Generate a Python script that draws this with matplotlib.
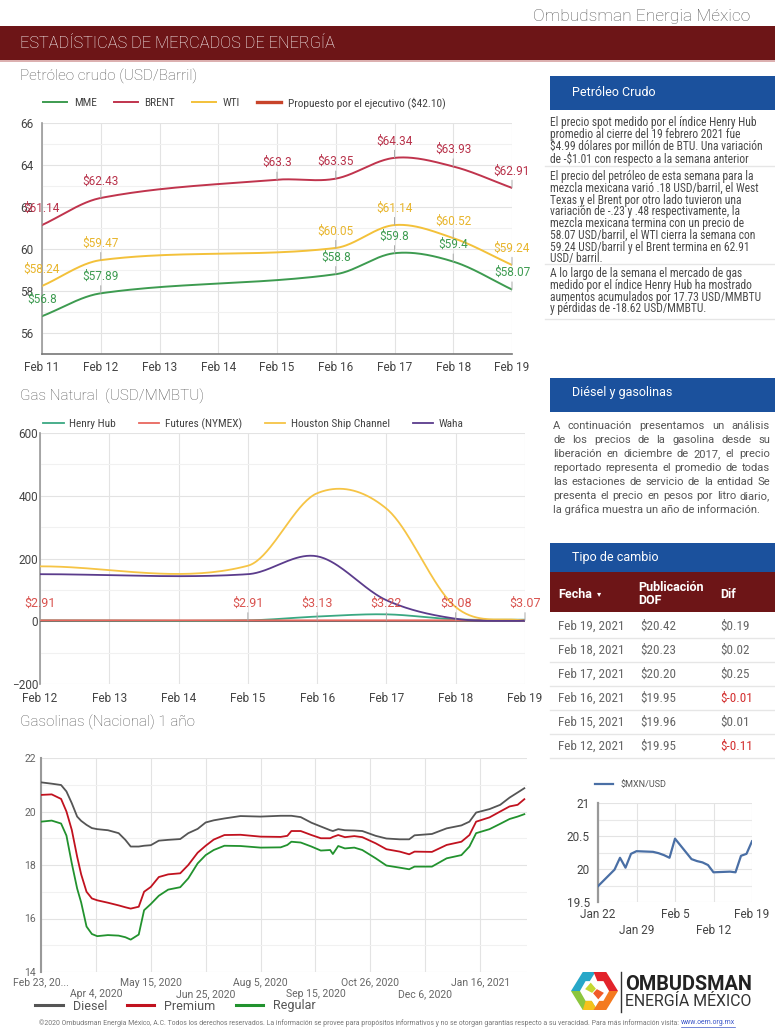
import numpy as np
import matplotlib
matplotlib.use('Agg')
import matplotlib.pyplot as plt
import matplotlib.dates as mdates
import matplotlib.font_manager as fm
from matplotlib.patches import Rectangle, Polygon
from matplotlib.lines import Line2D

W, H = 775, 1033
plt.rcParams['font.family'] = ['Roboto', 'DejaVu Sans']
names = {f.name for f in fm.fontManager.ttflist}
COND = next((n for n in ['Roboto Condensed', 'Liberation Sans Narrow'] if n in names), 'Roboto')
CONDF = [COND, 'DejaVu Sans']

# ---- Petróleo crudo ----
brent_dates = ['2021-02-11', '2021-02-12', '2021-02-15', '2021-02-16', '2021-02-17', '2021-02-18', '2021-02-19']
brent = [61.14, 62.43, 63.3, 63.35, 64.34, 63.93, 62.91]
wti_dates = ['2021-02-11', '2021-02-12', '2021-02-16', '2021-02-17', '2021-02-18', '2021-02-19']
wti = [58.24, 59.47, 60.05, 61.14, 60.52, 59.24]
mme = [56.8, 57.89, 58.8, 59.8, 59.4, 58.07]
propuesto = 42.10

# ---- Gas natural ----
gas_dates = ['2021-02-12', '2021-02-15', '2021-02-16', '2021-02-17', '2021-02-18', '2021-02-19']
henry_hub = [2.9, 3.0, 15.0, 22.0, 6.0, 4.99]
futures = [2.91, 2.91, 3.13, 3.22, 3.08, 3.07]
houston = [175, 177, 408, 359, 45, 1]
waha = [150, 150, 207, 67, 8, 1]

# ---- Gasolinas (dias desde 23 feb 2020) ----
gasol_days = [0, 8, 15, 19, 23, 27, 30, 34, 38, 42, 50, 58, 63, 67, 73, 77, 82, 88, 95, 104,
              110, 117, 123, 129, 137, 149, 164, 179, 184, 187, 194, 202, 209, 216, 218, 222,
              227, 234, 240, 250, 258, 268, 275, 279, 292, 303, 314, 320, 325, 335, 343, 350, 356, 361]
diesel = [21.09, 21.04, 20.99, 20.75, 20.31, 19.81, 19.65, 19.50, 19.38, 19.34, 19.30, 19.19, 18.94,
          18.69, 18.69, 18.72, 18.74, 18.91, 18.94, 18.97, 19.19, 19.35, 19.59, 19.67, 19.74, 19.83,
          19.81, 19.84, 19.84, 19.84, 19.79, 19.58, 19.44, 19.30, 19.27, 19.34, 19.30, 19.29, 19.27,
          19.09, 18.99, 18.96, 18.96, 19.11, 19.16, 19.37, 19.48, 19.62, 19.96, 20.09, 20.25, 20.52,
          20.71, 20.87]
premium = [20.62, 20.64, 20.47, 20.0, 19.31, 18.31, 17.65, 17.0, 16.75, 16.68, 16.59, 16.49, 16.42,
           16.37, 16.44, 17.0, 17.18, 17.55, 17.65, 17.69, 18.0, 18.46, 18.72, 18.95, 19.12, 19.13,
           19.06, 19.05, 19.09, 19.27, 19.27, 19.12, 19.0, 19.0, 19.05, 19.12, 19.04, 19.08, 19.04,
           18.81, 18.59, 18.50, 18.40, 18.50, 18.49, 18.75, 18.87, 19.12, 19.62, 19.78, 20.0, 20.19,
           20.25, 20.46]
regular = [19.62, 19.66, 19.55, 19.1, 18.06, 17.12, 16.6, 15.7, 15.42, 15.34, 15.38, 15.36, 15.30,
           15.21, 15.40, 16.31, 16.54, 16.85, 17.08, 17.17, 17.5, 18.06, 18.37, 18.56, 18.72, 18.71,
           18.65, 18.66, 18.75, 18.87, 18.84, 18.69, 18.54, 18.56, 18.41, 18.71, 18.62, 18.65, 18.56,
           18.25, 17.98, 17.90, 17.84, 17.94, 17.94, 18.25, 18.37, 18.69, 19.19, 19.34, 19.54, 19.72,
           19.81, 19.90]
gasol_ticks = [0, 41, 82, 123, 164, 205, 246, 287, 328]
gasol_labels = ['Feb 23, 20...', '\nApr 4, 2020', 'May 15, 2020', '\nJun 25, 2020', 'Aug 5, 2020',
                '\nSep 15, 2020', 'Oct 26, 2020', '\nDec 6, 2020', 'Jan 16, 2021']

# ---- Tipo de cambio ----
mxn_dates = ['2021-01-22', '2021-01-25', '2021-01-26', '2021-01-27', '2021-01-28', '2021-01-29',
             '2021-02-01', '2021-02-02', '2021-02-03', '2021-02-04', '2021-02-05', '2021-02-08',
             '2021-02-09', '2021-02-10', '2021-02-11', '2021-02-12', '2021-02-15', '2021-02-16',
             '2021-02-17', '2021-02-18', '2021-02-19']
mxn = [19.74, 19.99, 20.17, 20.02, 20.23, 20.27, 20.26, 20.24, 20.21, 20.17, 20.46, 20.15,
       20.12, 20.10, 20.06, 19.95, 19.96, 19.95, 20.20, 20.23, 20.42]
mxn_ticks = ['2021-01-22', '2021-01-29', '2021-02-05', '2021-02-12', '2021-02-19']
mxn_labels = ['Jan 22', '\nJan 29', 'Feb 5', '\nFeb 12', 'Feb 19']
tc_fechas = ['Feb 19, 2021', 'Feb 18, 2021', 'Feb 17, 2021', 'Feb 16, 2021', 'Feb 15, 2021', 'Feb 12, 2021']
tc_dof = ['$20.42', '$20.23', '$20.20', '$19.95', '$19.96', '$19.95']
tc_dif = ['$0.19', '$0.02', '$0.25', '$-0.01', '$0.01', '$-0.11']

BLUE = '#1b519d'
DARKRED = '#6d1517'

fig = plt.figure(figsize=(W / 100, H / 100), dpi=100)
R = fig.canvas.get_renderer()


def box(x0, y0, x1, y1):
    return [x0 / W, 1 - y1 / H, (x1 - x0) / W, (y1 - y0) / H]


def T(x, y, s, **kw):
    kw.setdefault('va', 'center')
    return fig.text(x / W, 1 - y / H, s, **kw)


def rect(x0, y0, x1, y1, color):
    fig.add_artist(Rectangle((x0 / W, 1 - y1 / H), (x1 - x0) / W, (y1 - y0) / H,
                             transform=fig.transFigure, facecolor=color, edgecolor='none'))


def hline(x0, x1, y, color, lw=0.8):
    fig.add_artist(Line2D([x0 / W, x1 / W], [1 - y / H] * 2, transform=fig.transFigure, color=color, lw=lw))


def width_of(t):
    return t.get_window_extent(renderer=R).width


def fit_size(s, target, family, weight='normal'):
    t = fig.text(0, 0, s, fontsize=10, family=family, fontweight=weight)
    w = width_of(t)
    t.remove()
    return 10 * target / w


def line_height(size, family):
    t = fig.text(0, 0, 'lp', fontsize=size, family=family)
    h = t.get_window_extent(renderer=R).height
    t.remove()
    return h


def smooth(x, y, n=40):
    # curva suave tipo Google Charts (Hermite con tangentes de Catmull-Rom)
    x = np.asarray(x, float)
    y = np.asarray(y, float)
    m = np.empty_like(y)
    m[1:-1] = (y[2:] - y[:-2]) / (x[2:] - x[:-2])
    m[0] = (y[1] - y[0]) / (x[1] - x[0])
    m[-1] = (y[-1] - y[-2]) / (x[-1] - x[-2])
    xs, ys = [], []
    t = np.linspace(0, 1, n, endpoint=False)
    for i in range(len(x) - 1):
        h = x[i + 1] - x[i]
        h00 = 2 * t**3 - 3 * t**2 + 1
        h10 = t**3 - 2 * t**2 + t
        h01 = -2 * t**3 + 3 * t**2
        h11 = t**3 - t**2
        xs.append(x[i] + t * h)
        ys.append(h00 * y[i] + h10 * h * m[i] + h01 * y[i + 1] + h11 * h * m[i + 1])
    xs.append([x[-1]])
    ys.append([y[-1]])
    return np.concatenate(xs), np.concatenate(ys)


def label_points(ax, xs, ys, color, size=8.5):
    for x, y in zip(xs, ys):
        ax.annotate('${:g}'.format(y), xy=(x, y), xytext=(0, 7.5), textcoords='offset points',
                    ha='center', va='bottom', color=color, fontsize=size, annotation_clip=False,
                    arrowprops=dict(arrowstyle='-', color='#aaaaaa', lw=0.7, shrinkA=0, shrinkB=0))


def style(ax, size=8.5, color='#444'):
    for s in ax.spines.values():
        s.set_visible(False)
    ax.tick_params(which='both', length=0, labelsize=size, colors=color)
    ax.grid(True, which='major', color='#e3e3e3', lw=0.8)
    ax.grid(True, which='minor', axis='y', color='#f1f1f1', lw=0.8)
    ax.set_axisbelow(True)


LEG = dict(family=CONDF, size=8.2)

# ---------------- encabezado ----------------
T(750, 17, 'Ombudsman Energia México', ha='right', fontsize=12.5, color='#555', fontweight='light')
rect(0, 26, 775, 60, DARKRED)
rect(0, 60, 775, 62, '#dcb0b0')
T(20, 43, 'ESTADÍSTICAS DE MERCADOS DE ENERGÍA', fontsize=11.8, color='white', fontweight='light')

T(20, 76, 'Petróleo crudo (USD/Barril)', fontsize=11, color='#555', fontweight='light')
T(20, 396, 'Gas Natural  (USD/MMBTU)', fontsize=11, color='#555', fontweight='light')
T(20, 722, 'Gasolinas (Nacional) 1 año', fontsize=11, color='#555', fontweight='light')

# ---------------- petróleo ----------------
ax1 = fig.add_axes(box(42, 123, 512, 354))
bx = mdates.datestr2num(brent_dates)
wx = mdates.datestr2num(wti_dates)
x0, x1 = mdates.datestr2num(['2021-02-11', '2021-02-19'])
ax1.plot(*smooth(wx, mme), color='#3d9b50', lw=1.4, label='MME')
ax1.plot(*smooth(bx, brent), color='#c0344d', lw=1.4, label='BRENT')
ax1.plot(*smooth(wx, wti), color='#f3c13a', lw=1.4, label='WTI')
ax1.axhline(propuesto, color='#c8442a', lw=2.4, label='Propuesto por el ejecutivo ($42.10)')
label_points(ax1, bx, brent, '#b8324a')
label_points(ax1, wx, wti, '#e8b52c')
label_points(ax1, wx, mme, '#3d9b50')
ax1.set_xlim(x0, x1)
ax1.set_ylim(55, 66)
ax1.set_yticks([56, 58, 60, 62, 64, 66])
ax1.set_yticks(np.arange(55, 67, 1), minor=True)
ax1.xaxis.set_major_locator(mdates.DayLocator())
ax1.xaxis.set_major_formatter(mdates.DateFormatter('%b %d'))
style(ax1)
ax1.tick_params(axis='y', pad=6)
ax1.tick_params(axis='x', pad=5)
ax1.axvline(x0, color='#999', lw=1.2, clip_on=False, zorder=1.5)
ax1.axhline(55, color='#777', lw=1.2, clip_on=False, zorder=1.5)
ax1.legend(loc='center left', bbox_to_anchor=(43 / W, 1 - 103 / H), bbox_transform=fig.transFigure,
           ncol=4, frameon=False, prop=LEG, handlelength=2.1, handletextpad=0.6, columnspacing=1.5,
           borderpad=0, borderaxespad=0, labelcolor='#444')

# ---------------- gas natural ----------------
ax2 = fig.add_axes(box(40, 433, 525, 684))
gx = mdates.datestr2num(gas_dates)
g0, g1 = mdates.datestr2num(['2021-02-12', '2021-02-19'])
ax2.plot(*smooth(gx, henry_hub), color='#3aa882', lw=1.3, label='Henry Hub')
ax2.plot(*smooth(gx, futures), color='#e8675e', lw=1.3, label='Futures (NYMEX)')
ax2.plot(*smooth(gx, houston), color='#f6c445', lw=1.3, label='Houston Ship Channel')
ax2.plot(*smooth(gx, waha), color='#5b3c8c', lw=1.3, label='Waha')
label_points(ax2, gx, futures, '#d9534f', size=9)
ax2.set_xlim(g0, g1)
ax2.set_ylim(-200, 600)
ax2.set_yticks([-200, 0, 200, 400, 600])
ax2.set_yticks(np.arange(-200, 601, 100), minor=True)
ax2.xaxis.set_major_locator(mdates.DayLocator())
ax2.xaxis.set_major_formatter(mdates.DateFormatter('%b %d'))
style(ax2)
ax2.tick_params(axis='y', pad=1.5)
ax2.tick_params(axis='x', pad=5.5)
ax2.axvline(g0, color='#999', lw=1.2, clip_on=False, zorder=1.5)
ax2.axhline(0, color='#555', lw=1.2, zorder=1.5)
ax2.legend(loc='center left', bbox_to_anchor=(43 / W, 1 - 424 / H), bbox_transform=fig.transFigure,
           ncol=4, frameon=False, prop=LEG, handlelength=1.8, handletextpad=0.5, columnspacing=2.0,
           borderpad=0, borderaxespad=0, labelcolor='#444')

# ---------------- gasolinas ----------------
ax3 = fig.add_axes(box(41, 758, 527, 972))
ax3.plot(gasol_days, diesel, color='#555555', lw=1.3, label='Diesel')
ax3.plot(gasol_days, premium, color='#c1121f', lw=1.3, label='Premium')
ax3.plot(gasol_days, regular, color='#22922e', lw=1.3, label='Regular')
ax3.set_xlim(0, 363)
ax3.set_ylim(14, 22)
ax3.set_yticks([14, 16, 18, 20, 22])
ax3.set_yticks(np.arange(14, 23, 1), minor=True)
ax3.set_xticks(gasol_ticks, gasol_labels)
style(ax3, size=7.5, color='#666')
ax3.tick_params(axis='y', pad=3.5)
ax3.tick_params(axis='x', pad=4)
ax3.axvline(0, color='#999', lw=1.5, clip_on=False, zorder=1.5)
ax3.legend(loc='center left', bbox_to_anchor=(35 / W, 1 - 1006 / H), bbox_transform=fig.transFigure,
           ncol=3, frameon=False, fontsize=9, handlelength=2.2, columnspacing=1.6,
           borderpad=0, borderaxespad=0, labelcolor='#555')
for lh in ax3.get_legend().get_lines():
    lh.set_linewidth(2.2)

# ---------------- panel derecho: textos ----------------
rect(550, 76, 775, 110, BLUE)
T(572, 92, 'Petróleo Crudo', color='white', fontsize=9)

par1 = ['El precio spot medido por el índice Henry Hub',
        'promedio al cierre del 19 febrero 2021 fue',
        '$4.99 dólares por millón de BTU. Una variación',
        'de -$1.01 con respecto a la semana anterior']
par2 = ['El precio del petróleo de esta semana para la',
        'mezcla mexicana varió .18 USD/barril, el West',
        'Texas y el Brent por otro lado tuvieron una',
        'variación de -.23 y .48 respectivamente, la',
        'mezcla mexicana termina con un precio de',
        '58.07 USD/barril, el WTI cierra la semana con',
        '59.24 USD/barril y el Brent termina en 62.91',
        'USD/ barril.']
par3 = ['A lo largo de la semana el mercado de gas',
        'medido por el índice Henry Hub ha mostrado',
        'aumentos acumulados por 17.73 USD/MMBTU',
        'y pérdidas de -18.62 USD/MMBTU.']
psize = fit_size(par1[2], 212, CONDF)
pls = 11.4 / line_height(psize, CONDF)
for lines, y0 in [(par1, 122), (par2, 176), (par3, 273)]:
    T(550, y0 - 6, '\n'.join(lines), va='top', fontsize=psize, color='#4a4a4a',
      family=CONDF, linespacing=pls)
for y in [166, 264, 319]:
    hline(545, 775, y, '#e6e6e6', 1.0)

rect(550, 378, 775, 412, BLUE)
T(572, 393, 'Diésel y gasolinas', color='white', fontsize=9)
par4 = ['A continuación presentamos un análisis',
        'de los precios de la gasolina desde su',
        'liberación en diciembre de 2017, el precio',
        'reportado representa el promedio de todas',
        'las estaciones de servicio de la entidad Se',
        'presenta el precio en pesos por litro diario,',
        'la gráfica muestra un año de información.']
jsize = fit_size(par4[5], 210, 'Roboto')
for i, s in enumerate(par4):
    y = 426 + 14 * i
    if i == len(par4) - 1:
        T(553, y, s, fontsize=jsize, color='#555')
        continue
    words = s.split()
    objs = [T(553, y, w, fontsize=jsize, color='#555') for w in words]
    ws = [width_of(o) for o in objs]
    gap = (770 - 553 - sum(ws)) / (len(words) - 1)
    xx = 553
    for o, w in zip(objs, ws):
        o.set_x(xx / W)
        xx += w + gap

# ---------------- tipo de cambio ----------------
rect(550, 543, 775, 572, BLUE)
T(572, 557, 'Tipo de cambio', color='white', fontsize=9)
rect(550, 572, 775, 612, DARKRED)
T(558, 594, 'Fecha', color='white', fontsize=9, fontweight='bold')
T(597, 594, '▾', color='white', fontsize=6, family=['DejaVu Sans'])
T(638, 594, 'Publicación\nDOF', color='white', fontsize=9, fontweight='bold', linespacing=0.95)
T(720, 594, 'Dif', color='white', fontsize=9, fontweight='bold')
tsize = fit_size(tc_fechas[0], 66, CONDF)
for i, (f, d, df) in enumerate(zip(tc_fechas, tc_dof, tc_dif)):
    y = 626 + 24 * i
    T(558, y, f, fontsize=tsize, color='#666', family=CONDF)
    T(640, y, d, fontsize=tsize, color='#666', family=CONDF)
    T(720, y, df, fontsize=tsize, color='#d32f2f' if '-' in df else '#666', family=CONDF)
    hline(550, 775, y + 12, '#e6e6e6', 1.0)

ax4 = fig.add_axes(box(598, 803, 752, 902))
mx = mdates.datestr2num(mxn_dates)
m0, m1 = mdates.datestr2num(['2021-01-22', '2021-02-19'])
ax4.plot(mx, mxn, color='#4a6fa5', lw=1.6, label='$MXN/USD')
ax4.set_xlim(m0, m1)
ax4.set_ylim(19.5, 21)
ax4.set_yticks([19.5, 20, 20.5, 21], ['19.5', '20', '20.5', '21'])
ax4.set_yticks(np.arange(19.5, 21.01, 0.25), minor=True)
ax4.set_xticks(mdates.datestr2num(mxn_ticks), mxn_labels)
style(ax4, size=8.5, color='#444')
ax4.grid(True, which='minor', axis='y', color='#e8e8e8', lw=0.8)
ax4.tick_params(axis='y', pad=6)
ax4.tick_params(axis='x', pad=4)
for lab in ax4.get_xticklabels():
    lab.set_linespacing(1.3)
ax4.axvline(m0, color='#999', lw=1.6, clip_on=False, zorder=1.5)
ax4.legend(loc='center left', bbox_to_anchor=(595 / W, 1 - 785 / H), bbox_transform=fig.transFigure,
           frameon=False, fontsize=6.5, handlelength=2.0, borderpad=0, borderaxespad=0,
           labelcolor='#555')

# ---------------- logo ----------------
axl = fig.add_axes(box(571, 972, 618, 1010))
axl.set_xlim(0, 1)
axl.set_ylim(0, 1)
axl.axis('off')
pieces = [
    ([(0, 0.5), (0.25, 1), (0.52, 1), (0.40, 0.76), (0.31, 0.76), (0.19, 0.5)], '#27a7c8'),
    ([(0, 0.5), (0.19, 0.5), (0.31, 0.24), (0.44, 0.24), (0.56, 0), (0.25, 0)], '#8cc63e'),
    ([(0.25, 0), (0.56, 0), (0.44, 0.24), (0.31, 0.24)], '#f5c21b'),
    ([(0.48, 1), (0.75, 1), (1, 0.5), (0.81, 0.5), (0.69, 0.76), (0.56, 0.76)], '#e2232b'),
    ([(1, 0.5), (0.75, 0), (0.48, 0), (0.60, 0.24), (0.69, 0.24), (0.81, 0.5)], '#f47a20'),
    ([(0.30, 0.55), (0.42, 0.72), (0.53, 0.56), (0.45, 0.45)], '#c5d732'),
    ([(0.70, 0.45), (0.58, 0.28), (0.47, 0.44), (0.55, 0.55)], '#f15a29'),
]
for pts, c in pieces:
    axl.add_patch(Polygon(pts, closed=True, facecolor=c, edgecolor='none'))
fig.add_artist(Line2D([621 / W] * 2, [1 - 972 / H, 1 - 1012 / H], transform=fig.transFigure, color='#333', lw=1.0))
T(625, 984, 'OMBUDSMAN', fontsize=fit_size('OMBUDSMAN', 127, 'Roboto', 'bold'), fontweight='bold', color='#222')
T(625, 1002, 'ENERGÍA MÉXICO', fontsize=fit_size('ENERGÍA MÉXICO', 127, 'Roboto'), color='#333')

# ---------------- pie ----------------
foot = ('©2020 Ombudsman Energia México, A.C. Todos los derechos reservados. La información se provee '
        'para propósitos informativos y no se otorgan garantías respecto a su veracidad. '
        'Para más información visita: ')
link = 'www.oem.org.mx'
fsize = fit_size(foot + link, 695, 'Roboto')
lt = T(735, 1023, link, ha='right', fontsize=fsize, color='#3a55c8')
lw_ = width_of(lt)
T(735 - lw_, 1023, foot, ha='right', fontsize=fsize, color='#777')
hline(735 - lw_, 735, 1026.5, '#3a55c8', 0.5)

fig.savefig('out.png', dpi=100)
